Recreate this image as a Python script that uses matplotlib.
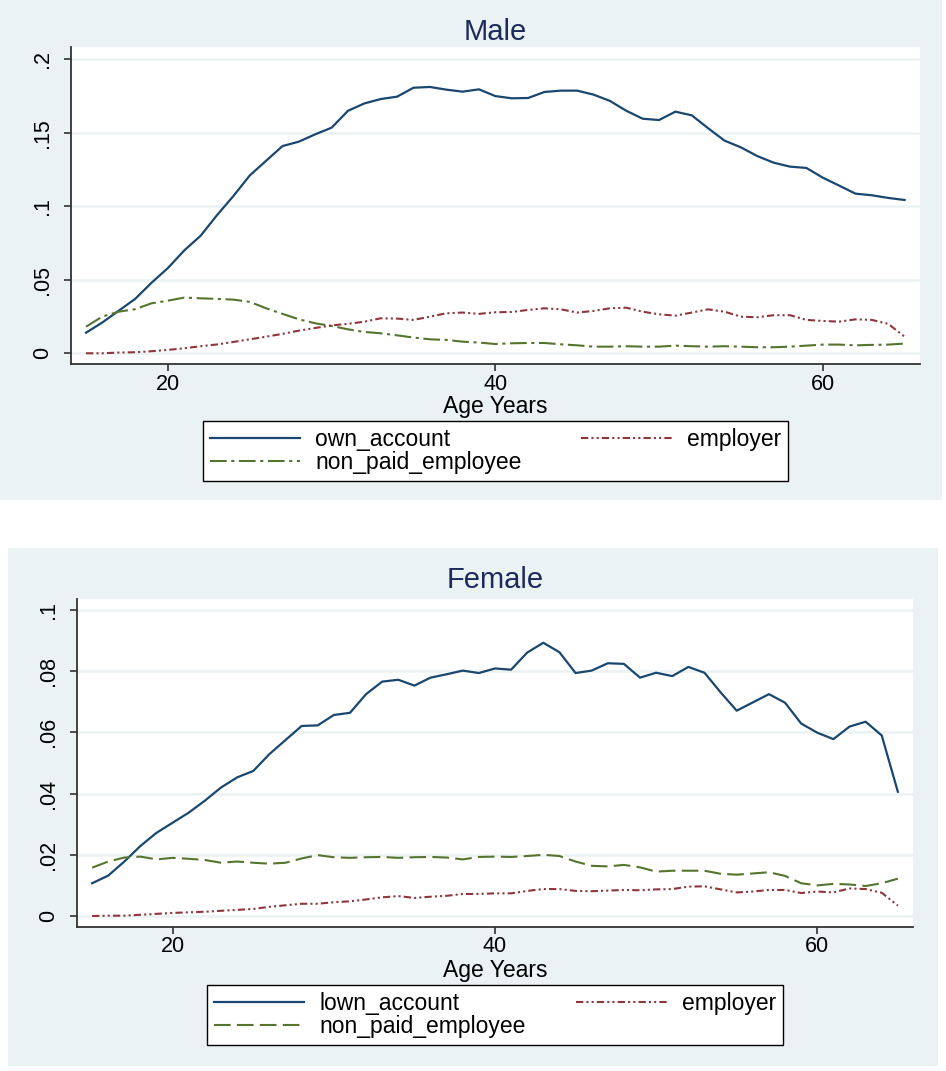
import matplotlib
matplotlib.use("Agg")
import matplotlib.pyplot as plt
from matplotlib.patches import Rectangle

plt.rcParams['font.family'] = ['Liberation Sans', 'DejaVu Sans']

ages = list(range(15, 66))

male_own_account = [0.014, 0.021, 0.029, 0.037, 0.048, 0.058, 0.070, 0.080, 0.094, 0.107,
                    0.121, 0.131, 0.141, 0.144, 0.149, 0.1535, 0.165, 0.170, 0.173, 0.1746,
                    0.1807, 0.1812, 0.1794, 0.178, 0.1796, 0.175, 0.1735, 0.1737, 0.1778, 0.1787,
                    0.1787, 0.176, 0.1717, 0.165, 0.1596, 0.1587, 0.1644, 0.1619, 0.1531, 0.1447,
                    0.1401, 0.1342, 0.1297, 0.127, 0.1261, 0.1195, 0.1141, 0.1086, 0.1075, 0.1057,
                    0.1043]
male_employer = [0.0, 0.0, 0.0005, 0.0007, 0.0014, 0.0023, 0.0034, 0.0048, 0.006, 0.0077,
                 0.0095, 0.0113, 0.0132, 0.0154, 0.0172, 0.019, 0.020, 0.0215, 0.0238, 0.0236,
                 0.0227, 0.0249, 0.0272, 0.0277, 0.0268, 0.0279, 0.0281, 0.0295, 0.0306, 0.0299,
                 0.0277, 0.0288, 0.0306, 0.031, 0.0283, 0.0265, 0.0256, 0.0277, 0.0299, 0.0283,
                 0.0249, 0.0245, 0.0259, 0.0259, 0.0227, 0.022, 0.0215, 0.0231, 0.0227, 0.020,
                 0.0113]
male_non_paid = [0.0181, 0.025, 0.0283, 0.030, 0.034, 0.0358, 0.0379, 0.0374, 0.037, 0.0365,
                 0.035, 0.0306, 0.0268, 0.0231, 0.0204, 0.0186, 0.0163, 0.0145, 0.0136, 0.0122,
                 0.0107, 0.0095, 0.0091, 0.0079, 0.0073, 0.0063, 0.0068, 0.007, 0.007, 0.0061,
                 0.0054, 0.0045, 0.0045, 0.0048, 0.0045, 0.0045, 0.0052, 0.0048, 0.0045, 0.0048,
                 0.0045, 0.0041, 0.0041, 0.0045, 0.0052, 0.0059, 0.0059, 0.0054, 0.0057, 0.0059,
                 0.0066]

female_own_account = [0.0107, 0.0132, 0.0178, 0.0229, 0.0272, 0.0305, 0.0338, 0.0377, 0.042, 0.0453,
                      0.0474, 0.0529, 0.0575, 0.0621, 0.0623, 0.0657, 0.0664, 0.0725, 0.0766, 0.0772,
                      0.0753, 0.0779, 0.079, 0.0802, 0.0794, 0.0809, 0.0805, 0.0861, 0.0893, 0.0862,
                      0.0794, 0.0802, 0.0826, 0.0824, 0.0779, 0.0795, 0.0784, 0.0814, 0.0795, 0.0731,
                      0.0671, 0.0698, 0.0725, 0.0697, 0.0629, 0.0599, 0.0578, 0.0619, 0.0635, 0.059,
                      0.0406]
female_employer = [0.0, 0.0001, 0.0001, 0.0004, 0.0007, 0.001, 0.0012, 0.0014, 0.0017, 0.002,
                   0.0023, 0.003, 0.0035, 0.004, 0.004, 0.0045, 0.0048, 0.0054, 0.0061, 0.0065,
                   0.0059, 0.0063, 0.0066, 0.0072, 0.0072, 0.0074, 0.0074, 0.0082, 0.0088, 0.0088,
                   0.0082, 0.0081, 0.0083, 0.0085, 0.0084, 0.0087, 0.0088, 0.0096, 0.0097, 0.0087,
                   0.0077, 0.008, 0.0085, 0.0085, 0.0075, 0.008, 0.0077, 0.009, 0.0088, 0.0076,
                   0.0034]
female_non_paid = [0.0158, 0.0178, 0.0191, 0.0194, 0.0185, 0.019, 0.0187, 0.0183, 0.0174, 0.0178,
                   0.0174, 0.0171, 0.0174, 0.0188, 0.0199, 0.0192, 0.019, 0.0192, 0.0193, 0.019,
                   0.0192, 0.0193, 0.0191, 0.0185, 0.0193, 0.0194, 0.0193, 0.0196, 0.020, 0.0196,
                   0.0178, 0.0164, 0.0162, 0.0167, 0.0159, 0.0145, 0.0148, 0.0148, 0.0148, 0.0138,
                   0.0135, 0.0139, 0.0143, 0.0131, 0.0107, 0.010, 0.0105, 0.0103, 0.0098, 0.0107,
                   0.0122]

male_yticks = [0, 0.05, 0.1, 0.15, 0.2]
male_yticklabels = ["0", ".05", ".1", ".15", ".2"]
female_yticks = [0, 0.02, 0.04, 0.06, 0.08, 0.1]
female_yticklabels = ["0", ".02", ".04", ".06", ".08", ".1"]
xticks = [20, 40, 60]

NAVY = '#1A476F'
MAROON = '#90353B'
GREEN = '#55752F'
BG = '#EAF2F3'
TITLE = '#1C2B5A'

W, H = 946, 1071
fig = plt.figure(figsize=(W / 100, H / 100), dpi=100)
fig.patch.set_facecolor('white')

# panel backgrounds
fig.add_artist(Rectangle((0 / W, 1 - 500 / H), 942 / W, 500 / H, transform=fig.transFigure,
                         facecolor=BG, edgecolor='none', zorder=-10))
fig.add_artist(Rectangle((8 / W, 1 - 1066 / H), 930 / W, 518 / H, transform=fig.transFigure,
                         facecolor=BG, edgecolor='none', zorder=-10))


def make_panel(rect, title, own, emp, nonpaid, own_label, nonpaid_dash, ylim, yticks, yticklabels,
               legend_box, title_y, xlabel_y):
    ax = fig.add_axes(rect)
    ax.set_facecolor('white')
    ax.plot(ages, own, color=NAVY, lw=1.6, solid_joinstyle='round', label=own_label)
    ax.plot(ages, nonpaid, color=GREEN, lw=1.5, dashes=nonpaid_dash, label='non_paid_employee')
    ax.plot(ages, emp, color=MAROON, lw=1.5, dashes=(3.5, 1.5, 1, 1.5, 1, 1.5), label='employer')
    ax.set_xlim(14.08, 65.94)
    ax.set_ylim(*ylim)
    ax.set_xticks(xticks)
    ax.set_xticklabels([str(t) for t in xticks], fontsize=15.5)
    ax.set_yticks(yticks)
    ax.set_yticklabels(yticklabels, fontsize=15.5, rotation=90, va='center')
    ax.grid(axis='y', color=BG, lw=1.8)
    ax.set_axisbelow(True)
    for s in ['top', 'right']:
        ax.spines[s].set_visible(False)
    for s in ['left', 'bottom']:
        ax.spines[s].set_color('#333333')
        ax.spines[s].set_linewidth(1.3)
    ax.tick_params(axis='both', length=5, width=1.1, color='#222222', labelcolor='black')
    ax.tick_params(axis='y', pad=8)
    ax.tick_params(axis='x', pad=2)
    fig.text(rect[0] + rect[2] / 2, title_y, title, ha='center', va='center',
             fontsize=21, color=TITLE)
    fig.text(rect[0] + rect[2] / 2, xlabel_y, 'Age Years', ha='center', va='center',
             fontsize=16.5, color='black')
    h, l = ax.get_legend_handles_labels()
    leg = fig.legend(h, l, ncol=2,
                     loc='center', bbox_to_anchor=legend_box, bbox_transform=fig.transFigure,
                     mode='expand', fontsize=16.5, handlelength=3.95, handletextpad=0.65,
                     labelspacing=0.0, borderpad=0.3, borderaxespad=0.0,
                     fancybox=False, frameon=True, edgecolor='black', facecolor='white',
                     framealpha=1.0)
    leg.get_frame().set_linewidth(1.0)
    return ax


# Male panel
make_panel([71 / W, 1 - 364 / H, 849 / W, 317 / H], 'Male',
           male_own_account, male_employer, male_non_paid, 'own_account', (8, 2.2, 1.5, 2.2),
           (-0.0073, 0.2084), male_yticks, male_yticklabels,
           (203 / W, 1 - 480 / H, 585 / W, 58 / H), 1 - 32 / H, 1 - 406 / H)

# Female panel
make_panel([77.3 / W, 1 - 926.7 / H, 835.7 / W, 327.7 / H], 'Female',
           female_own_account, female_employer, female_non_paid, 'lown_account', (8, 3),
           (-0.0035, 0.1036), female_yticks, female_yticklabels,
           (207 / W, 1 - 1044 / H, 576 / W, 58 / H), 1 - 580 / H, 1 - 970 / H)

fig.savefig('out.png', dpi=100, facecolor='white')
